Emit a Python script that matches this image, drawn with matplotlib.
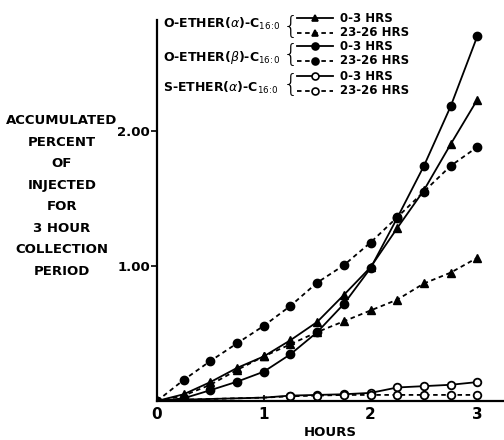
import matplotlib.pyplot as plt
from matplotlib.lines import Line2D

# time points (hours)
hours = [0, 0.25, 0.5, 0.75, 1.0, 1.25, 1.5, 1.75, 2.0, 2.25, 2.5, 2.75, 3.0]

# accumulated percent of injected dose
o_alpha_0_3 = [0, 0.05, 0.14, 0.245, 0.33, 0.45, 0.585, 0.785, 0.99, 1.28, 1.56, 1.90, 2.23]
o_alpha_23_26 = [0, 0.04, 0.12, 0.23, 0.33, 0.42, 0.51, 0.59, 0.67, 0.75, 0.87, 0.95, 1.06]
o_beta_0_3 = [0, 0.02, 0.08, 0.143, 0.217, 0.346, 0.509, 0.718, 0.983, 1.355, 1.74, 2.18, 2.70]
o_beta_23_26 = [0, 0.156, 0.296, 0.427, 0.556, 0.704, 0.876, 1.005, 1.173, 1.36, 1.55, 1.74, 1.88]
s_alpha_0_3 = [0, 0.01, 0.015, 0.02, 0.025, 0.04, 0.045, 0.05, 0.06, 0.1, 0.11, 0.12, 0.14]
s_alpha_23_26 = [0, 0.01, 0.015, 0.02, 0.025, 0.035, 0.04, 0.045, 0.045, 0.045, 0.045, 0.045, 0.045]

group_labels = [r"O-ETHER($\alpha$)-C$_{16\!:\!0}$", r"O-ETHER($\beta$)-C$_{16\!:\!0}$", r"S-ETHER($\alpha$)-C$_{16\!:\!0}$"]
period_labels = ["0-3 HRS", "23-26 HRS"]

ylabel_text = "ACCUMULATED\nPERCENT\nOF\nINJECTED\nFOR\n3 HOUR\nCOLLECTION\nPERIOD"

plt.rcParams['font.family'] = 'DejaVu Sans'

fig = plt.figure(figsize=(5.04, 4.40), dpi=100)
ax = fig.add_axes([157 / 504, 1 - 401 / 440, 1 - 157 / 504, 381 / 440])

solid = dict(color='black', lw=1.3, linestyle='-')
dashed = dict(color='black', lw=1.3, linestyle=(0, (2.5, 2)))

ax.plot(hours, o_alpha_0_3, marker='^', ms=6, **solid)
ax.plot(hours, o_alpha_23_26, marker='^', ms=6, **dashed)
ax.plot(hours, o_beta_0_3, marker='o', ms=6, **solid)
ax.plot(hours, o_beta_23_26, marker='o', ms=6, **dashed)
ax.plot(hours, s_alpha_0_3, marker='o', ms=5.5, mfc='white', mew=1.3,
        markevery=list(range(5, 13)), **solid)
ax.plot(hours, s_alpha_23_26, marker='o', ms=5.5, mfc='white', mew=1.3,
        markevery=list(range(5, 13)), **dashed)

ax.set_xlim(0, 3.25)
ax.set_ylim(0, 2.82)
ax.spines['top'].set_visible(False)
ax.spines['right'].set_visible(False)
ax.spines['left'].set_linewidth(1.6)
ax.spines['bottom'].set_linewidth(1.6)
ax.set_xticks([0, 1, 2, 3])
ax.set_xticklabels(['0', '1', '2', '3'], fontsize=11, fontweight='bold')
ax.set_yticks([1.0, 2.0])
ax.set_yticklabels(['1.00', '2.00'], fontsize=9.5, fontweight='semibold')
ax.tick_params(axis='x', direction='in', length=4, width=1.2, pad=4)
ax.tick_params(axis='y', direction='out', length=4, width=1.2, pad=1)
ax.set_xlabel('HOURS', fontsize=9.5, fontweight='bold', labelpad=3)

fig.text(62 / 504, 1 - 196 / 440, ylabel_text, ha='center', va='center',
         fontsize=9.5, fontweight='bold', linespacing=1.85)

# legend drawn by hand: group label, brace, line samples
group_y = [24, 57, 88]
row_y = [[18, 33], [46, 61], [76, 91]]
markers = [('^', 'black'), ('o', 'black'), ('o', 'white')]
for g, label in enumerate(group_labels):
    fig.text(163 / 504, 1 - group_y[g] / 440, label, ha='left', va='center', fontsize=9,
             fontweight='semibold')
    fig.text(291 / 504, 1 - ((row_y[g][0] + row_y[g][1]) / 2 + 1) / 440, '{', ha='center', va='center',
             fontsize=18, fontweight='light')
    for k in range(2):
        yy = 1 - row_y[g][k] / 440
        style = solid if k == 0 else dashed
        fig.add_artist(Line2D([297 / 504, 333 / 504], [yy, yy], transform=fig.transFigure, **style))
        fig.add_artist(Line2D([315 / 504], [yy], transform=fig.transFigure, marker=markers[g][0],
                              ms=5, color='black', mfc=markers[g][1], mew=1.2))
        fig.text(340 / 504, yy, period_labels[k], ha='left', va='center', fontsize=8.5, fontweight='bold')

fig.savefig('out.png', dpi=100)
